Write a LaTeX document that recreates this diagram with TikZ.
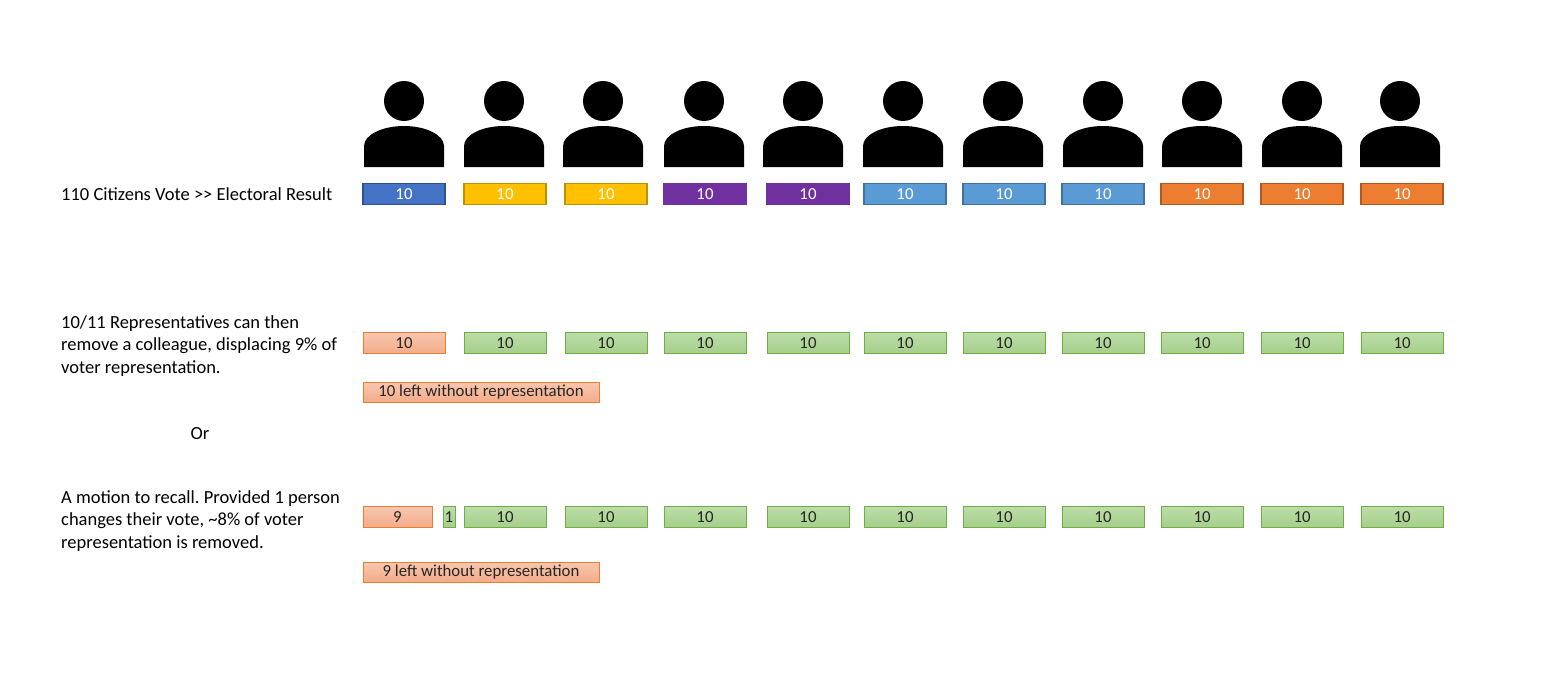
\documentclass[tikz,border=0pt]{standalone}
\usepackage{fontspec}
\setmainfont{Carlito}
\usetikzlibrary{positioning}
\frenchspacing

\definecolor{vblue}{HTML}{4472C4}
\definecolor{vbluedk}{HTML}{2F528F}
\definecolor{vyellow}{HTML}{FFC000}
\definecolor{vyellowdk}{HTML}{BF9000}
\definecolor{vpurple}{HTML}{7030A0}
\definecolor{vlblue}{HTML}{5B9BD5}
\definecolor{vlbluedk}{HTML}{41719C}
\definecolor{vorange}{HTML}{ED7D31}
\definecolor{vorangedk}{HTML}{AE5A21}
\definecolor{salmontop}{HTML}{F8C6AE}
\definecolor{salmonbot}{HTML}{F3AC88}
\definecolor{greentop}{HTML}{BCDDA8}
\definecolor{greenbot}{HTML}{A4CF8A}
\definecolor{greendk}{HTML}{70AD47}

\begin{document}
\begin{tikzpicture}[x=1pt,y=-1pt,
  lbl/.style={anchor=west,align=left,inner sep=0pt,
    font=\fontsize{18.5}{22.2}\selectfont},
  vote/.style={minimum width=82pt,minimum height=21pt,inner sep=0pt,
    line width=1.5pt,text=white,font=\fontsize{16.8}{18}\selectfont},
  seat/.style={minimum width=82pt,minimum height=21pt,inner sep=0pt,
    line width=0.8pt,draw=greendk,top color=greentop,bottom color=greenbot,
    text=black!85,font=\fontsize{16.8}{18}\selectfont},
  lost/.style={seat,draw=vorange,top color=salmontop,bottom color=salmonbot}]
\useasboundingbox (0,0) rectangle (1547,677);
% citizens
\foreach \x in {404,504,603,704,803,903,1003,1103,1202,1302,1400}{
  \fill (\x,101) circle[radius=20pt];
  \fill (\x-40,167) -- ++(0,-21) .. controls ++(0,-11) and ++(-22,0) .. (\x,126)
    .. controls ++(22,0) and ++(0,-11) .. (\x+40,146) -- (\x+40,167) -- cycle;
}
% electoral result
\node[lbl] (vote-lbl) at (61,194) {110 Citizens Vote >{}> Electoral Result};
\foreach \x/\c/\d [count=\i] in {404/vblue/vbluedk,505/vyellow/vyellowdk,
  606/vyellow/vyellowdk,705/vpurple/vpurple,808/vpurple/vpurple,
  905/vlblue/vlbluedk,1004/vlblue/vlbluedk,1103/vlblue/vlbluedk,
  1202/vorange/vorangedk,1302/vorange/vorangedk,1402/vorange/vorangedk}
  \node[vote,fill=\c,draw=\d] (vote-\i) at (\x,194) {10};
% removal by colleagues
\node[lbl] (rem-lbl) at (61,346) {10/11 Representatives can then\\
  remove a colleague, displacing 9\% of\\voter representation.};
\node[lost] (rem-1) at (404,343) {10};
\foreach \x [count=\i from 2] in {505,606,705,808,905,1004,1103,1202,1302,1402}
  \node[seat] (rem-\i) at (\x,343) {10};
\node[lost,minimum width=236pt,minimum height=20pt,
  below=28pt of rem-1.south west,anchor=north west] (rem-out)
  {10 left without representation};
\node[lbl,anchor=center] (or) at (200,434) {Or};
% recall
\node[lbl] (rec-lbl) at (61,521) {A motion to recall. Provided 1 person\\
  changes their vote, \textasciitilde 8\% of voter\\representation is removed.};
\node[lost,minimum width=69pt] (rec-a) at (397.5,517) {9};
\node[seat,minimum width=12pt] (rec-b) at (449,517) {1};
\foreach \x [count=\i from 2] in {505,606,705,808,905,1004,1103,1202,1302,1402}
  \node[seat] (rec-\i) at (\x,517) {10};
\node[lost,minimum width=236pt,minimum height=20pt,
  below=34pt of rec-a.south west,anchor=north west] (rec-out)
  {9 left without representation};
\end{tikzpicture}
\end{document}
